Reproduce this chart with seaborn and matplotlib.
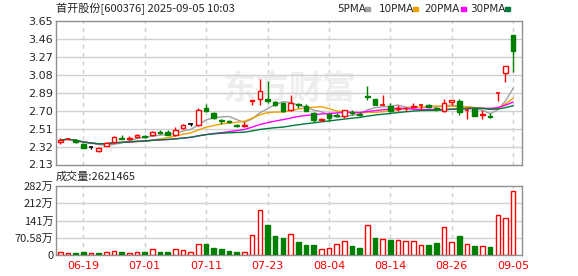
import matplotlib
matplotlib.use("Agg")
import matplotlib.pyplot as plt
import seaborn as sns
import pandas as pd
import numpy as np

# дневные данные (06-16 .. 09-05)
dates = ["06-16", "06-17", "06-18", "06-19", "06-20", "06-23", "06-24", "06-25", "06-26", "06-27",
         "06-30", "07-01", "07-02", "07-03", "07-04", "07-07", "07-08", "07-09", "07-10", "07-11",
         "07-14", "07-15", "07-16", "07-17", "07-18", "07-21", "07-22", "07-23", "07-24", "07-25",
         "07-28", "07-29", "07-30", "07-31", "08-01", "08-04", "08-05", "08-06", "08-07", "08-08",
         "08-11", "08-12", "08-13", "08-14", "08-15", "08-18", "08-19", "08-20", "08-21", "08-22",
         "08-25", "08-26", "08-27", "08-28", "08-29", "09-01", "09-02", "09-03", "09-04", "09-05"]
opens = [2.37, 2.40, 2.39, 2.35, 2.315, 2.27, 2.33, 2.37, 2.41, 2.40,
         2.42, 2.43, 2.44, 2.47, 2.47, 2.44, 2.52, 2.555, 2.55, 2.73,
         2.68, 2.60, 2.59, 2.55, 2.54, 2.80, 2.83, 2.82, 2.79, 2.78,
         2.71, 2.77, 2.75, 2.68, 2.60, 2.67, 2.66, 2.64, 2.69, 2.67,
         2.86, 2.82, 2.76, 2.75, 2.72, 2.725, 2.74, 2.755, 2.76, 2.73,
         2.70, 2.79, 2.80, 2.705, 2.72, 2.66, 2.65, 2.885, 3.10, 3.50]
highs = [2.41, 2.41, 2.40, 2.36, 2.32, 2.32, 2.37, 2.43, 2.44, 2.43,
         2.45, 2.44, 2.49, 2.50, 2.50, 2.53, 2.56, 2.57, 2.73, 2.77,
         2.69, 2.61, 2.60, 2.56, 2.58, 2.81, 3.04, 3.02, 2.80, 2.79,
         2.87, 2.78, 2.77, 2.69, 2.62, 2.68, 2.68, 2.71, 2.71, 2.69,
         2.96, 2.83, 2.87, 2.78, 2.76, 2.74, 2.78, 2.77, 2.77, 2.74,
         2.82, 2.81, 2.82, 2.71, 2.73, 2.71, 2.68, 2.89, 3.18, 3.50]
lows = [2.35, 2.39, 2.36, 2.30, 2.29, 2.26, 2.33, 2.36, 2.40, 2.39,
        2.41, 2.41, 2.43, 2.45, 2.44, 2.43, 2.51, 2.54, 2.54, 2.69,
        2.61, 2.56, 2.57, 2.53, 2.53, 2.76, 2.76, 2.78, 2.75, 2.69,
        2.70, 2.73, 2.70, 2.58, 2.59, 2.59, 2.63, 2.62, 2.66, 2.64,
        2.81, 2.76, 2.76, 2.69, 2.70, 2.70, 2.73, 2.71, 2.73, 2.70,
        2.69, 2.76, 2.66, 2.61, 2.64, 2.61, 2.62, 2.80, 3.01, 3.11]
closes = [2.39, 2.405, 2.37, 2.31, 2.315, 2.31, 2.36, 2.42, 2.40, 2.41,
          2.44, 2.42, 2.48, 2.46, 2.44, 2.50, 2.55, 2.555, 2.71, 2.70,
          2.62, 2.59, 2.58, 2.54, 2.55, 2.81, 2.91, 2.80, 2.76, 2.70,
          2.78, 2.76, 2.70, 2.60, 2.61, 2.62, 2.65, 2.71, 2.68, 2.66,
          2.85, 2.76, 2.765, 2.70, 2.73, 2.735, 2.755, 2.76, 2.74, 2.72,
          2.78, 2.81, 2.69, 2.71, 2.65, 2.67, 2.63, 2.89, 3.18, 3.33]
# объём,万
volumes = [12, 8, 8, 12, 8, 8, 12, 16, 12, 8,
           12, 13, 24, 13, 13, 24, 20, 12, 44, 46,
           29, 25, 17, 13, 12, 80, 183, 123, 78, 70,
           85, 54, 41, 41, 23, 29, 45, 57, 37, 29,
           123, 69, 65, 61, 60, 57, 57, 40, 41, 49,
           114, 53, 78, 45, 37, 37, 33, 163, 150, 262.1465]

price_ticks = [2.13, 2.32, 2.51, 2.70, 2.89, 3.08, 3.27, 3.46, 3.65]
vol_ticks = [0, 70.58, 141.16, 211.74, 282.32]
vol_labels = ["0", "70.58万", "141万", "212万", "282万"]
label_dates = ["06-19", "07-01", "07-11", "07-23", "08-04", "08-14", "08-26", "09-05"]
ma_windows = [5, 10, 20, 30]
ma_colors = ["#a0a0a0", "#f0a000", "#ff00ff", "#007a3d"]

RED = "#ff0000"
GREEN = "#008000"
GRID = "#d0d0d0"
FRAME = "#909090"

sns.set_style("white")
plt.rcParams['font.family'] = ['DejaVu Sans', 'Noto Sans CJK SC']
CJK = ['Noto Sans CJK SC', 'DejaVu Sans']

df = pd.DataFrame({"date": dates, "open": opens, "high": highs, "low": lows,
                   "close": closes, "volume": volumes})
df["idx"] = np.arange(len(df))
for w in ma_windows:
    df[f"ma{w}"] = df["close"].rolling(w, min_periods=1).mean()

W, H = 578, 276
fig = plt.figure(figsize=(W / 100, H / 100), dpi=100)
ax = fig.add_axes([56 / W, 1 - 164.5 / H, 466 / W, 143.2 / H])
axv = fig.add_axes([56 / W, 1 - 255 / H, 466 / W, 69 / H])

tick_pos = [dates.index(d) for d in label_dates]

for a in (ax, axv):
    a.set_xlim(-0.55, 60.15)
    for s in a.spines.values():
        s.set_color(FRAME)
        s.set_linewidth(1)
    for p in tick_pos:
        a.axvline(p, color=GRID, linestyle=(0, (3, 3)), linewidth=1, zorder=0)
    a.tick_params(length=0, pad=2)

# водяной знак
ax.text(0.5, 0.52, "东方财富", transform=ax.transAxes, fontsize=24, color="#eeeeee",
        ha="center", va="center", family=CJK, fontweight="bold", zorder=0)

# свечи
ax.set_ylim(2.13, 3.65)
ax.set_yticks(price_ticks)
ax.set_yticklabels([f"{t:.2f}" for t in price_ticks], fontsize=8)
for t in price_ticks[1:-1]:
    ax.axhline(t, color=GRID, linewidth=1, zorder=0)
ax.set_xticks([])

bw = 0.6
for i, r in df.iterrows():
    if r["close"] > r["open"]:
        col = RED
    elif r["close"] < r["open"]:
        col = GREEN
    else:
        col = "black"
    ax.vlines(i, r["low"], r["high"], color=col, linewidth=1, zorder=3)
    lo, hi = min(r["open"], r["close"]), max(r["open"], r["close"])
    if hi - lo < 0.006:
        ax.hlines((lo + hi) / 2, i - bw / 2, i + bw / 2, color=col, linewidth=1.2, zorder=4)
    elif col == RED:
        ax.bar(i, hi - lo, bottom=lo, width=bw, facecolor="white", edgecolor=RED,
               linewidth=1, zorder=4)
    else:
        ax.bar(i, hi - lo, bottom=lo, width=bw, facecolor=GREEN, edgecolor=GREEN,
               linewidth=1, zorder=4)

for w, c in zip(ma_windows, ma_colors):
    sns.lineplot(data=df, x="idx", y=f"ma{w}", color=c, linewidth=1, ax=ax, zorder=2)
ax.set_xlabel("")
ax.set_ylabel("")
ax.set_xlim(-0.55, 60.15)

# объём
axv.set_ylim(0, 282.32)
axv.set_yticks(vol_ticks)
axv.set_yticklabels(vol_labels, fontsize=8, family=CJK)
for t in vol_ticks[1:-1]:
    axv.axhline(t, color=GRID, linewidth=1, zorder=0)
axv.set_xticks(tick_pos)
axv.set_xticklabels(label_dates, fontsize=8, color=RED)
axv.tick_params(axis="x", pad=4)

prev = df["close"].shift(1).fillna(df["open"])
up = df["close"] >= prev
axv.bar(df["idx"][up], df["volume"][up], width=bw, facecolor="white", edgecolor=RED,
        linewidth=1, zorder=3)
axv.bar(df["idx"][~up], df["volume"][~up], width=bw, facecolor=GREEN, edgecolor=GREEN,
        linewidth=1, zorder=3)

# подписи
fig.text(56 / W, 1 - 9 / H, "首开股份[600376] 2025-09-05 10:03", fontsize=8,
         family=CJK, va="center", ha="left")
fig.text(56 / W, 1 - 177 / H, "成交量:2621465", fontsize=8, family=CJK, va="center", ha="left")

legend_x = [337, 379, 424.5, 470.5]
square_x = [365, 413, 460.5, 505]
for w, c, tx, sx in zip(ma_windows, ma_colors, legend_x, square_x):
    fig.text(tx / W, 1 - 9 / H, f"{w}PMA", fontsize=7.5, va="center", ha="left")
    fig.patches.append(plt.Rectangle((sx / W, 1 - 10.5 / H), 5 / W, 3 / H,
                                     transform=fig.transFigure, color=c))

fig.savefig("out.png", dpi=100)
